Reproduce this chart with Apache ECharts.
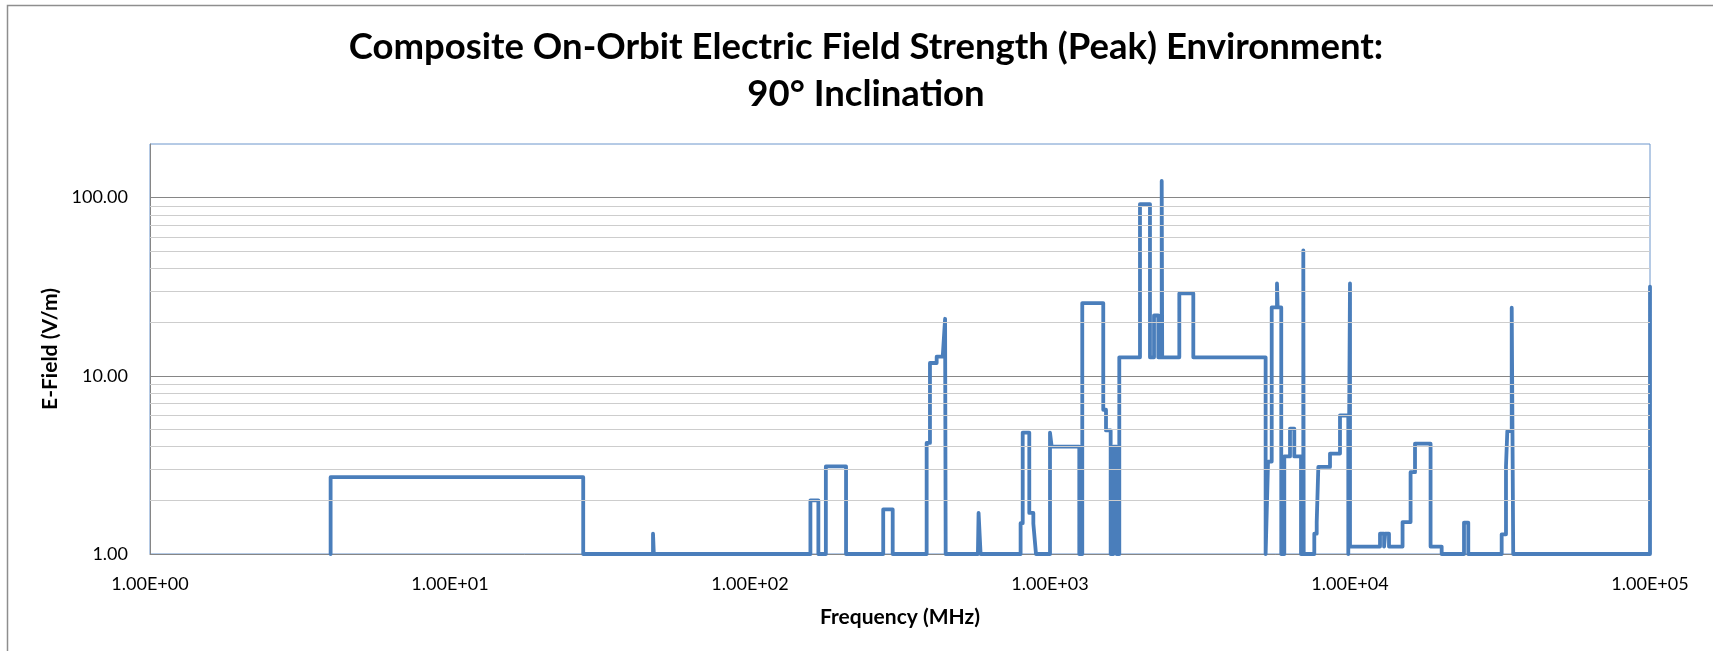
<!DOCTYPE html>
<html>
<head>
<meta charset="utf-8">
<title>Composite On-Orbit Electric Field Strength (Peak) Environment: 90° Inclination</title>
<script src="https://cdn.jsdelivr.net/npm/echarts@6/dist/echarts.min.js"></script>
<style>
  html, body { margin: 0; padding: 0; background: #fff; }
  #chart { width: 1713px; height: 651px; }
</style>
</head>
<body>
<div id="chart"></div>
<script>
// step envelope: frequency (MHz) and peak E-field (V/m)
const freqMHz = [
  4, 4, 27.8, 27.8,
  47.5, 47.5, 47.8, 47.8,
  159, 159, 169, 169,
  179, 179, 209, 209,
  278, 278, 299, 299,
  388, 388, 398, 398, 419, 419, 439, 447, 449, 449,
  575, 578, 587,
  798, 798, 811, 811, 853, 853, 880, 880, 898,
  1000, 1000, 1013, 1252, 1252,
  1281, 1281, 1505, 1505, 1537, 1537, 1593, 1593,
  1626, 1626, 1668, 1668,
  1702, 1702, 1995, 1995, 2154, 2154, 2222, 2222, 2296, 2296,
  2357, 2357, 2366, 2366, 2698, 2698, 3004, 3004,
  5233, 5233, 5331, 5483, 5483, 5710, 5710, 5740, 5740, 5900, 5900,
  6039, 6039, 6310, 6310, 6521, 6521, 6866, 6866,
  6988, 6988, 7010, 7010,
  7603, 7603, 7745, 7745, 7842, 7842, 8577, 8577, 9261, 9261, 9870, 9870,
  10000, 10000, 10000,
  12590, 12590, 12990, 12990, 13100, 13100, 13490, 13490,
  14970, 14970, 15920, 15920, 16470, 16470, 18560, 18560, 20210, 20210,
  23990, 23990, 24790, 24790,
  32030, 32030, 33110, 33110, 33450, 33450, 34600, 34600, 35000, 35000,
  100000, 100000
];
const efieldVm = [
  1, 2.7, 2.7, 1,
  1, 1.3, 1.3, 1,
  1, 2.0, 2.0, 1,
  1, 3.1, 3.1, 1,
  1, 1.78, 1.78, 1,
  1, 4.2, 4.2, 11.8, 11.8, 12.8, 12.8, 20.9, 20.9, 1,
  1, 1.7, 1,
  1, 1.49, 1.49, 4.8, 4.8, 1.7, 1.7, 1.48, 1,
  1, 4.8, 4.0, 4.0, 1,
  1, 25.6, 25.6, 6.45, 6.45, 4.94, 4.94, 1,
  1, 4.0, 4.0, 1,
  1, 12.7, 12.7, 92, 92, 12.7, 12.7, 21.8, 21.8, 12.7,
  12.7, 124, 124, 12.7, 12.7, 29, 29, 12.7,
  12.7, 1, 3.3, 3.3, 24.2, 24.2, 33, 33, 24.2, 24.2, 1,
  1, 3.53, 3.53, 5.05, 5.05, 3.53, 3.53, 1,
  1, 50.5, 50.5, 1,
  1, 1.3, 1.3, 1.51, 1.51, 3.08, 3.08, 3.66, 3.66, 5.99, 5.99, 1,
  1, 33, 1.1,
  1.1, 1.3, 1.3, 1.1, 1.1, 1.3, 1.3, 1.1,
  1.1, 1.51, 1.51, 2.88, 2.88, 4.16, 4.16, 1.1, 1.1, 1,
  1, 1.5, 1.5, 1,
  1, 1.29, 1.29, 3.1, 3.1, 4.9, 4.9, 24.1, 24.1, 1,
  1, 31.7
];
const yMinorGrid = [2, 3, 4, 5, 6, 7, 8, 9, 20, 30, 40, 50, 60, 70, 80, 90];
const yAxisMin = 1;
const yAxisMax = 200;
const xAxisMin = 1;
const xAxisMax = 100000;

const chart = echarts.init(document.getElementById('chart'));

const isDecade = v => Math.abs(Math.log10(v) - Math.round(Math.log10(v))) < 1e-9;
// Excel style scientific label, e.g. 1.00E+03
const sciLabel = v => {
  const e = Math.floor(Math.log10(v) + 1e-9);
  const m = v / Math.pow(10, e);
  return m.toFixed(2) + 'E' + (e < 0 ? '-' : '+') + String(Math.abs(e)).padStart(2, '0');
};

const option = {
  animation: false,
  textStyle: { fontFamily: 'Lato' },
  title: {
    text: 'Composite On-Orbit Electric Field Strength (Peak) Environment:\n90° Inclination',
    left: 866,
    top: 24,
    padding: 0,
    textAlign: 'center',
    textStyle: { fontFamily: 'Lato', fontWeight: 'bold', fontSize: 36.5, lineHeight: 47, color: '#000' }
  },
  graphic: [{
    type: 'rect',
    silent: true,
    shape: { x: 7.5, y: 5.5, width: 2000, height: 1000 },
    style: { fill: 'none', stroke: '#8e8e8e', lineWidth: 1.5 }
  }],
  grid: {
    left: 150, right: 63, top: 144, bottom: 97,
    show: true, backgroundColor: '#fff', borderColor: '#6c96cc', borderWidth: 1
  },
  xAxis: {
    type: 'log', logBase: 10, min: xAxisMin, max: xAxisMax,
    name: 'Frequency (MHz)', nameLocation: 'middle', nameGap: 53,
    nameTextStyle: { fontFamily: 'Lato', fontWeight: 'bold', fontSize: 21, color: '#000' },
    axisLine: { lineStyle: { color: '#868686', width: 1 } },
    axisTick: { show: false },
    splitLine: { show: false },
    axisLabel: { fontFamily: 'Lato', fontSize: 18, color: '#000', margin: 21, formatter: sciLabel }
  },
  yAxis: {
    type: 'log', logBase: 10, min: yAxisMin, max: yAxisMax,
    name: 'E-Field (V/m)', nameLocation: 'middle', nameGap: 89,
    nameTextStyle: { fontFamily: 'Lato', fontWeight: 'bold', fontSize: 21, color: '#000' },
    axisLine: { show: true, lineStyle: { color: '#868686', width: 1 } },
    axisTick: { show: false },
    splitLine: { show: true, showMinLine: false, showMaxLine: false, lineStyle: { color: '#868686', width: 1 } },
    axisLabel: {
      fontFamily: 'Lato', fontSize: 18, color: '#000', margin: 22, showMaxLabel: false,
      formatter: v => (isDecade(v) ? v.toFixed(2) : '')
    }
  },
  series: [
    {
      name: 'minor grid',
      type: 'line',
      data: [],
      z: 1,
      silent: true,
      markLine: {
        silent: true,
        symbol: 'none',
        label: { show: false },
        lineStyle: { color: '#cdcdcd', width: 1, type: 'solid' },
        emphasis: { disabled: true },
        data: yMinorGrid.map(v => ({ yAxis: v }))
      }
    },
    {
      name: 'E-Field',
      type: 'line',
      z: 3,
      clip: false,
      showSymbol: false,
      lineStyle: { color: '#4a7ebb', width: 3.8, join: 'round', cap: 'round' },
      itemStyle: { color: '#4a7ebb' },
      data: freqMHz.map((f, i) => [f, efieldVm[i]])
    }
  ]
};

chart.setOption(option);
</script>
</body>
</html>
